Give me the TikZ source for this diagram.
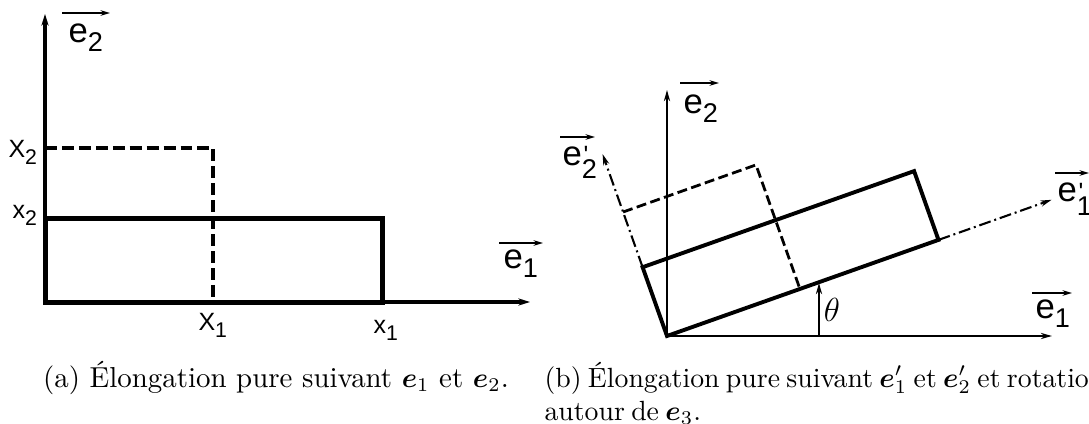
\documentclass[tikz,border=0pt]{standalone}
\usepackage{amsmath}
\usepackage{graphicx}
\usepackage{fontspec}
\newfontfamily\labfont{Liberation Sans}
\usetikzlibrary{arrows.meta}
\newcommand\lsub[1]{\raisebox{-0.28em}{\scalebox{0.78}{#1}}}
\newcommand\psub[1]{\raisebox{-0.38em}{\scalebox{0.78}{#1}}}
\newcommand\xsub[1]{\raisebox{-0.3em}{\scalebox{0.85}{#1}}}
\newcommand\lpr{\rlap{\fontsize{9}{9}\selectfont\kern0.6pt\raisebox{0.06em}{'}}}
\newcommand\tightsp{\spaceskip=2.3pt plus 1pt minus 0.5pt\relax}
\begin{document}
\begin{tikzpicture}[x=0.36pt,y=-0.36pt,
  axA/.style={line width=1.4pt,-{Stealth[length=4.2pt,width=2.6pt]}},
  rectA/.style={line width=1.8pt,line join=miter},
  dashA/.style={line width=1.1pt,dash pattern=on 4.3pt off 1.8pt},
  axB/.style={line width=0.75pt,-{Stealth[length=4pt,width=2.2pt]}},
  rectB/.style={line width=1.4pt,line join=miter},
  dashB/.style={line width=1pt,dash pattern=on 3.6pt off 1.6pt},
  ddB/.style={line width=0.75pt,dash pattern=on 4.3pt off 1.4pt on 0.7pt off 1.4pt,-{Stealth[length=4pt,width=2.2pt]}},
  ovr/.style={line width=0.7pt,-{Stealth[length=3.4pt,width=2pt]}},
  elab/.style={inner sep=0pt,anchor=base west,font=\labfont\fontsize{12.5}{14}\selectfont},
  xlab/.style={inner sep=0pt,anchor=base west,font=\labfont\fontsize{9}{11}\selectfont},
  captxt/.style={inner sep=0pt}]
\useasboundingbox (0,0) rectangle (1089,424);

% ---------- (a) ----------
\coordinate (Oa) at (45,302);
\coordinate (Ya) at (45,14);
\coordinate (Xa) at (530,302);
\coordinate (Pa) at (382,302);
\coordinate (Qa) at (382,218);
\coordinate (Ra) at (45,218);
\coordinate (Sa) at (213,302);
\coordinate (Ta) at (213,148);
\coordinate (Ua) at (45,148);
\draw[axA] (Oa) -- (Ya);
\draw[axA] (Oa) -- (Xa);
\draw[rectA] (Oa) -- (Pa) -- (Qa) -- (Ra) -- cycle;
\draw[dashA] (Ua) -- (Ta) -- (Sa);

\node[elab] (e2a) at (68,42) {e\lsub{2}};
\draw[ovr] ([shift={(-6,-29)}]e2a.base west) -- ++(48,0);
\node[elab] (e1a) at (503,268) {e\lsub{1}};
\draw[ovr] ([shift={(-4,-25)}]e1a.base west) -- ++(44,0);
\node[xlab] (X2) at (8,157) {X\xsub{2}};
\node[xlab] (x2) at (12,218) {x\xsub{2}};
\node[xlab] (X1) at (198,330) {X\xsub{1}};
\node[xlab] (x1) at (373,333) {x\xsub{1}};

% ---------- (b) ----------
\coordinate (Ob) at (667,336);
\coordinate (Yb) at (667,90);
\coordinate (Xb) at (1052,336);
% solid rectangle (theta = 19.5 deg)
\coordinate (Ab) at (642.6,267.2);
\coordinate (Bb) at (914.1,171.1);
\coordinate (Cb) at (938.5,239.9);
% dashed rectangle
\coordinate (Db) at (623.1,212.0);
\coordinate (Eb) at (756.0,164.9);
\coordinate (Fb) at (799.9,288.9);
% rotated axes tips
\coordinate (E2b) at (602.6,154.1);
\coordinate (E1b) at (1051.6,199.8);

\draw[axB] (Ob) -- (Yb);
\draw[axB] (Ob) -- (Xb);
\draw[ddB] (Ab) -- (E2b);
\draw[ddB] (Cb) -- (E1b);
\draw[dashB] (Db) -- (Eb) -- (Fb);
\draw[rectB] (Ob) -- (Ab) -- (Bb) -- (Cb) -- cycle;

\coordinate (Th1) at (819,336);
\coordinate (Th2) at (819,283);
\draw[axB] (Th1) -- (Th2);
\node[inner sep=0pt,font=\fontsize{11.5}{13}\selectfont] (th) at (832,310) {$\theta$};

\node[elab] (e2b) at (683,113) {e\lsub{2}};
\draw[ovr] ([shift={(-3,-30)}]e2b.base west) -- ++(39,0);
\node[elab] (e2pb) at (562,165) {e\lpr\psub{2}};
\draw[ovr] ([shift={(-2,-28)}]e2pb.base west) -- ++(35,0);
\node[elab] (e1pb) at (1057,202) {e\lpr\psub{1}};
\draw[ovr] ([shift={(-2,-29)}]e1pb.base west) -- ++(34,0);
\node[elab] (e1b) at (1035,318) {e\lsub{1}};
\draw[ovr] ([shift={(-3,-25)}]e1b.base west) -- ++(40,0);

% ---------- captions ----------
\node[captxt,anchor=base,font=\fontsize{10.4}{12}\selectfont] (capa) at (276,387) {(a) Élongation pure suivant $\boldsymbol{e}_1$ et $\boldsymbol{e}_2$.};
\node[captxt,anchor=base west,font=\fontsize{10}{12}\selectfont] (capb1) at (544,387) {\tightsp(b) Élongation pure suivant $\boldsymbol{e}'_1$ et $\boldsymbol{e}'_2$ et rotation};
\node[captxt,anchor=base west,font=\fontsize{10}{12}\selectfont] (capb2) at (544,420) {\tightsp autour de $\boldsymbol{e}_3$.};
\end{tikzpicture}
\end{document}
